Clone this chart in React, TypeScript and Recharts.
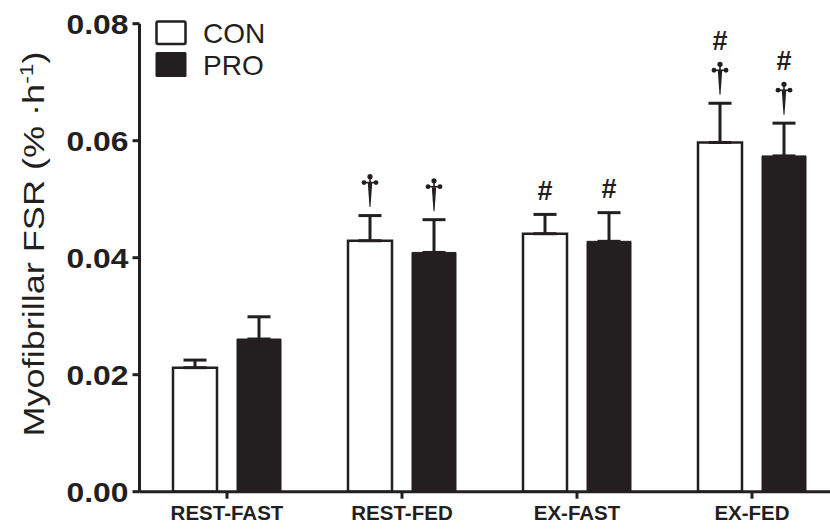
import { Bar, BarChart, ErrorBar, LabelList, XAxis, YAxis } from 'recharts';

const categories = ['REST-FAST', 'REST-FED', 'EX-FAST', 'EX-FED'];
const conMean = [0.0212, 0.0429, 0.0441, 0.0597];
const conSem = [0.0013, 0.0043, 0.0033, 0.0067];
const proMean = [0.0261, 0.0409, 0.0428, 0.0574];
const proSem = [0.0038, 0.0056, 0.0049, 0.0056];
// † different from REST-FAST, # different from the matching REST condition
const conMarks = ['', '†', '#', '#†'];
const proMarks = ['', '†', '#', '#†'];
const yTicks = [0, 0.02, 0.04, 0.06, 0.08];

const INK = '#231f20';
const FONT = '"Liberation Sans", Arial, Helvetica, sans-serif';

const data = categories.map((name, i) => ({
  name,
  con: conMean[i],
  pro: proMean[i],
  // upward-only error bars
  conErr: [0, conSem[i]],
  proErr: [0, proSem[i]],
}));

function Dagger({ cx, bottom }: { cx: number; bottom: number }) {
  const top = bottom - 33;
  const arm = top + 8.5;
  return (
    <g fill={INK}>
      <circle cx={cx} cy={top + 2.6} r={2.6} />
      <circle cx={cx - 6} cy={arm} r={2.4} />
      <circle cx={cx + 6} cy={arm} r={2.4} />
      <rect x={cx - 6} y={arm - 0.8} width={12} height={1.6} />
      <rect x={cx - 0.8} y={top + 2.6} width={1.6} height={6} />
      <path d={`M${cx - 2.2},${arm + 0.5} L${cx + 2.2},${arm + 0.5} L${cx + 0.5},${bottom} L${cx - 0.5},${bottom} Z`} />
    </g>
  );
}

function makeMarks(marks: string[], means: number[], sems: number[]) {
  return (props: any) => {
    const box = props.viewBox ?? props;
    const { x, y, width, height } = box;
    const i = props.index;
    const mark = marks[i];
    if (!mark || !height) return null;
    const perUnit = height / means[i];
    const capY = y - sems[i] * perUnit;
    const cx = x + width / 2;
    let hashBase = capY - 14.5;
    let dagger = null;
    if (mark.includes('†')) {
      const bottom = capY - 8.5;
      dagger = <Dagger cx={cx} bottom={bottom} />;
      hashBase = bottom - 33 - 12;
    }
    return (
      <g key={`mark-${i}`}>
        {dagger}
        {mark.includes('#') && (
          <text x={cx} y={hashBase} textAnchor="middle" fontSize={27} fontWeight="bold" fill={INK} fontFamily={FONT}>
            #
          </text>
        )}
      </g>
    );
  };
}

function YTick({ x, y, payload }: any) {
  return (
    <text
      x={x}
      y={y + 10}
      textAnchor="end"
      fontSize={28}
      fontWeight="bold"
      fill={INK}
      fontFamily={FONT}
      textLength={62}
      lengthAdjust="spacingAndGlyphs"
    >
      {Number(payload.value).toFixed(2)}
    </text>
  );
}

export default function App() {
  return (
    <div
      style={{
        position: 'fixed',
        left: 0,
        top: 0,
        width: 830,
        height: 531,
        overflow: 'hidden',
        background: '#fff',
        fontFamily: FONT,
      }}
    >
      <BarChart
        width={850}
        height={531}
        data={data}
        margin={{ top: 23.7, right: 10.5, bottom: 0, left: 0 }}
        barCategoryGap={33.5}
        barGap={20}
      >
        <XAxis
          dataKey="name"
          height={39.3}
          axisLine={{ stroke: INK, strokeWidth: 3 }}
          tickLine={{ stroke: INK, strokeWidth: 3 }}
          tickSize={7}
          tickMargin={7}
          tick={{ fill: INK, fontSize: 20.5, fontWeight: 'bold', fontFamily: FONT }}
        />
        <YAxis
          domain={[0, 0.08]}
          ticks={yTicks}
          width={139.5}
          axisLine={{ stroke: INK, strokeWidth: 3 }}
          tickLine={{ stroke: INK, strokeWidth: 3 }}
          tickSize={7}
          tickMargin={4}
          tick={<YTick />}
        />
        <Bar dataKey="con" fill="#fff" stroke={INK} strokeWidth={2.5} isAnimationActive={false}>
          <ErrorBar dataKey="conErr" direction="y" width={11.5} stroke={INK} strokeWidth={3} />
          <LabelList dataKey="con" content={makeMarks(conMarks, conMean, conSem)} />
        </Bar>
        <Bar dataKey="pro" fill={INK} stroke={INK} strokeWidth={1} isAnimationActive={false}>
          <ErrorBar dataKey="proErr" direction="y" width={11.5} stroke={INK} strokeWidth={3} />
          <LabelList dataKey="pro" content={makeMarks(proMarks, proMean, proSem)} />
        </Bar>
      </BarChart>
      <svg
        width={830}
        height={531}
        style={{ position: 'absolute', left: 0, top: 0, pointerEvents: 'none' }}
        fontFamily={FONT}
      >
        <text
          x={44}
          y={244}
          transform="rotate(-90 44 244)"
          textAnchor="middle"
          fontSize={30}
          fill={INK}
          textLength={385}
          lengthAdjust="spacingAndGlyphs"
        >
          Myofibrillar FSR (% ·h
          <tspan dy={-11} fontSize={19}>
            -1
          </tspan>
          <tspan dy={11}>)</tspan>
        </text>
        <rect x={156.5} y={21.5} width={29} height={22.5} rx={1.5} fill="#fff" stroke={INK} strokeWidth={2.5} />
        <text x={203} y={43} fontSize={28} fill={INK}>
          CON
        </text>
        <rect x={155.5} y={52} width={31} height={25} rx={1.5} fill={INK} />
        <text x={203} y={74.5} fontSize={28} fill={INK}>
          PRO
        </text>
      </svg>
    </div>
  );
}
